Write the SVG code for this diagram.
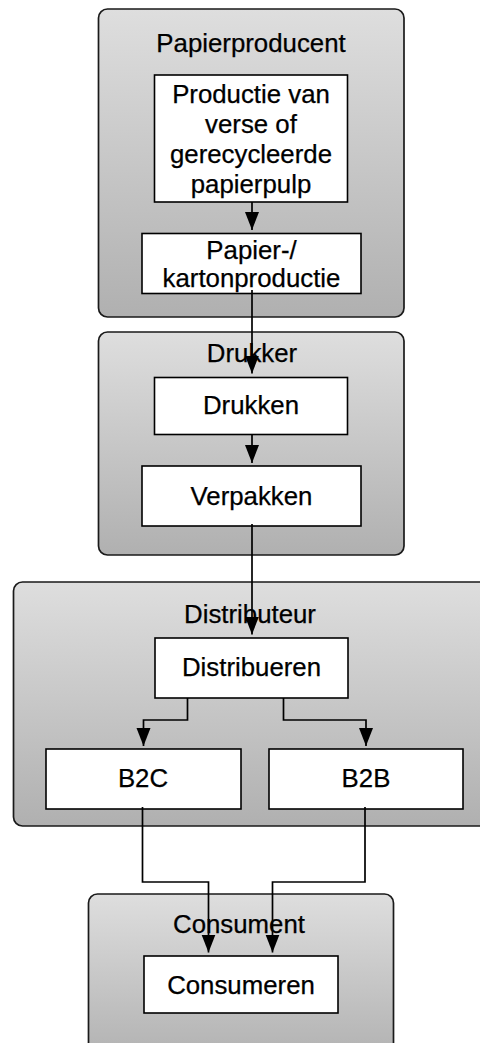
<svg xmlns="http://www.w3.org/2000/svg" width="480" height="1043" viewBox="0 0 480 1043">
  <defs>
    <linearGradient id="laneFill" x1="0" y1="0" x2="0" y2="1">
      <stop offset="0" stop-color="#dedede"/>
      <stop offset="1" stop-color="#b0b0b0"/>
    </linearGradient>
    <marker id="arrow" markerUnits="userSpaceOnUse" markerWidth="19" markerHeight="16" refX="18" refY="8" orient="auto">
      <path d="M0,1 L18,8 L0,15 z" fill="#000"/>
    </marker>
    <style>
      .lane { fill: url(#laneFill); stroke: #1a1a1a; stroke-width: 1.7; }
      .box { fill: #fff; stroke: #000; stroke-width: 1.6; }
      text { font-family: "Liberation Sans", Arial, Helvetica, sans-serif; font-size: 25.8px; fill: #000; stroke: #000; stroke-width: 0.25; text-anchor: middle; }
      .edge { fill: none; stroke: #000; stroke-width: 1.7; marker-end: url(#arrow); }
    </style>
  </defs>

  <!-- swimlane containers -->
  <g id="lane-papierproducent">
    <rect class="lane" x="98.5" y="9" width="305.5" height="308" rx="9"/>
    <text x="251" y="52">Papierproducent</text>
  </g>
  <g id="lane-drukker">
    <rect class="lane" x="98.5" y="332" width="305.5" height="223" rx="9"/>
    <text x="252" y="362">Drukker</text>
  </g>
  <g id="lane-distributeur">
    <rect class="lane" x="13.5" y="582" width="480" height="244" rx="9"/>
    <text x="250" y="623">Distributeur</text>
  </g>
  <g id="lane-consument">
    <rect class="lane" x="88.5" y="894" width="305" height="170" rx="9"/>
    <text x="239" y="933">Consument</text>
  </g>

  <!-- process steps -->
  <g id="node-pulp">
    <rect class="box" x="154.5" y="75" width="193" height="127"/>
    <text x="251" y="102.5">Productie van</text>
    <text x="251" y="133">verse of</text>
    <text x="251" y="163">gerecycleerde</text>
    <text x="251" y="193">papierpulp</text>
  </g>
  <g id="node-karton">
    <rect class="box" x="142" y="233.5" width="219" height="60"/>
    <text x="251.5" y="259">Papier-/</text>
    <text x="251.5" y="287">kartonproductie</text>
  </g>
  <g id="node-drukken">
    <rect class="box" x="154.5" y="377.5" width="193" height="57"/>
    <text x="251" y="414">Drukken</text>
  </g>
  <g id="node-verpakken">
    <rect class="box" x="142" y="466" width="219" height="60"/>
    <text x="251.5" y="505">Verpakken</text>
  </g>
  <g id="node-distribueren">
    <rect class="box" x="155" y="638" width="193" height="60"/>
    <text x="251.5" y="676">Distribueren</text>
  </g>
  <g id="node-b2c">
    <rect class="box" x="46" y="749" width="195" height="60"/>
    <text x="143" y="787">B2C</text>
  </g>
  <g id="node-b2b">
    <rect class="box" x="269" y="749" width="194" height="60"/>
    <text x="366" y="787">B2B</text>
  </g>
  <g id="node-consumeren">
    <rect class="box" x="144" y="956" width="194" height="57"/>
    <text x="241" y="994">Consumeren</text>
  </g>

  <!-- connectors -->
  <g id="connectors">
    <path class="edge" d="M252,202 V230"/>
    <path class="edge" d="M252,290 V373.5"/>
    <path class="edge" d="M252,434.5 V463"/>
    <path class="edge" d="M252,524 V634.5"/>
    <path class="edge" d="M187.5,698 V720 H143.5 V746"/>
    <path class="edge" d="M283.5,698 V720 H366 V746"/>
    <path class="edge" d="M142.5,807 V882 H208.5 V952.5"/>
    <path class="edge" d="M365,807 V882 H272.5 V952.5"/>
  </g>
</svg>
